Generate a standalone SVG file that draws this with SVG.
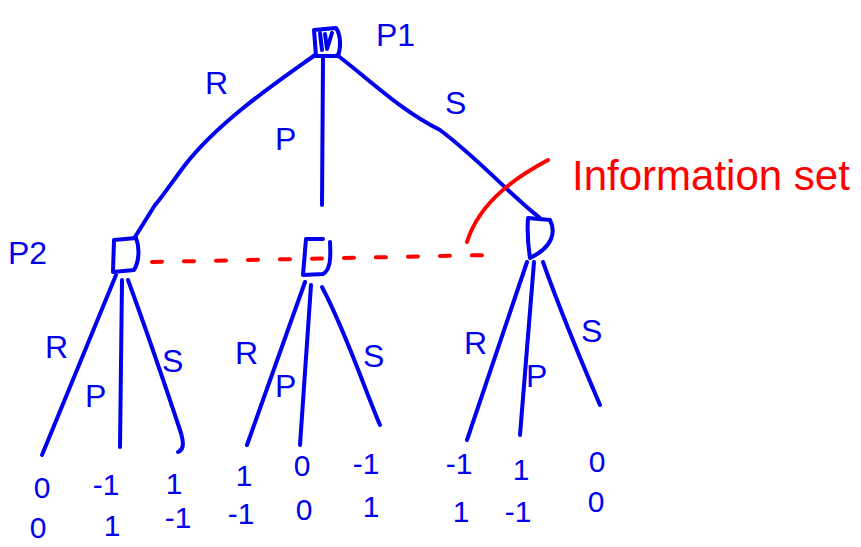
<svg xmlns="http://www.w3.org/2000/svg" width="861" height="547" viewBox="0 0 861 547">
<style>
.e{fill:none;stroke:#0000ee;stroke-width:4;stroke-linecap:round;stroke-linejoin:round}
.b{font-family:"Liberation Sans",Arial,sans-serif;fill:#0000ee;font-size:32px}
.p{font-family:"Liberation Sans",Arial,sans-serif;fill:#0000ee;font-size:30px;text-anchor:middle}
.r{fill:none;stroke:#ff0000;stroke-width:4;stroke-linecap:round}
</style>
<rect width="861" height="547" fill="#fff"/>
<g id="connectors">
<path class="e" d="M315 55 C280 80 220 120 185 165 C170 185 160 200 155 205 L135 237"/>
<path class="e" d="M323 58 L322 205"/>
<path class="e" d="M337 55 C370 80 400 110 440 130 C480 160 510 195 540 218"/>
<path class="e" d="M116 275 L42 455"/>
<path class="e" d="M122 280 L120 447"/>
<path class="e" d="M128 280 C150 340 170 400 180 430 C185 445 183 450 178 452"/>
<path class="e" d="M305 282 L247 445"/>
<path class="e" d="M311 285 L300 445"/>
<path class="e" d="M322 287 C345 330 365 390 380 425"/>
<path class="e" d="M527 262 L467 440"/>
<path class="e" d="M534 262 L520 435"/>
<path class="e" d="M543 262 C560 310 585 370 600 405"/>
<path class="r" d="M152 262 L490 255" stroke-dasharray="10 22"/>
<path class="r" d="M467 242 C480 200 520 175 548 160"/>
</g>
<g id="n-root">
<path class="e" d="M314 30 L336 28 C341 35 341 48 338 56 L316 56 Z"/>
<path class="e" d="M320 33 L322 50 M325 34 L327 49 L332 33"/>
<text class="b" x="376" y="46" font-size="36">P1</text>
</g>
<g id="n-left">
<path class="e" d="M114 240 L136 238 C140 248 139 262 134 270 L113 272 Z"/>
<text class="b" x="8" y="264">P2</text>
</g>
<g id="n-mid">
<path class="e" d="M306 239 L323 239 M330 242 C331 260 330 270 323 274 L303 275 C304 262 305 250 306 239"/>
</g>
<g id="n-right">
<path class="e" d="M528 218 L550 220 C556 232 553 247 530 258 C528 245 527 232 528 218"/>
</g>
<g id="edge-labels">
<text class="b" x="205" y="94">R</text>
<text class="b" x="275" y="150">P</text>
<text class="b" x="445" y="114">S</text>
<text class="b" x="45" y="358">R</text>
<text class="b" x="85" y="407">P</text>
<text class="b" x="162" y="372">S</text>
<text class="b" x="235" y="364">R</text>
<text class="b" x="275" y="397">P</text>
<text class="b" x="363" y="367">S</text>
<text class="b" x="464" y="354">R</text>
<text class="b" x="526" y="387">P</text>
<text class="b" x="581" y="342">S</text>
</g>
<g id="info-set-label">
<text x="572" y="190" font-family="'Liberation Sans',Arial,sans-serif" font-size="42" fill="#ff0000">Information set</text>
</g>
<g id="payoffs">
<text class="p" x="42" y="498">0</text>
<text class="p" x="38" y="538">0</text>
<text class="p" x="106" y="495">-1</text>
<text class="p" x="112" y="536">1</text>
<text class="p" x="174" y="494">1</text>
<text class="p" x="178" y="528">-1</text>
<text class="p" x="244" y="486">1</text>
<text class="p" x="241" y="524">-1</text>
<text class="p" x="302" y="476">0</text>
<text class="p" x="304" y="520">0</text>
<text class="p" x="366" y="474">-1</text>
<text class="p" x="371" y="517">1</text>
<text class="p" x="459" y="474">-1</text>
<text class="p" x="461" y="522">1</text>
<text class="p" x="521" y="480">1</text>
<text class="p" x="518" y="522">-1</text>
<text class="p" x="597" y="472">0</text>
<text class="p" x="596" y="512">0</text>
</g>
</svg>
